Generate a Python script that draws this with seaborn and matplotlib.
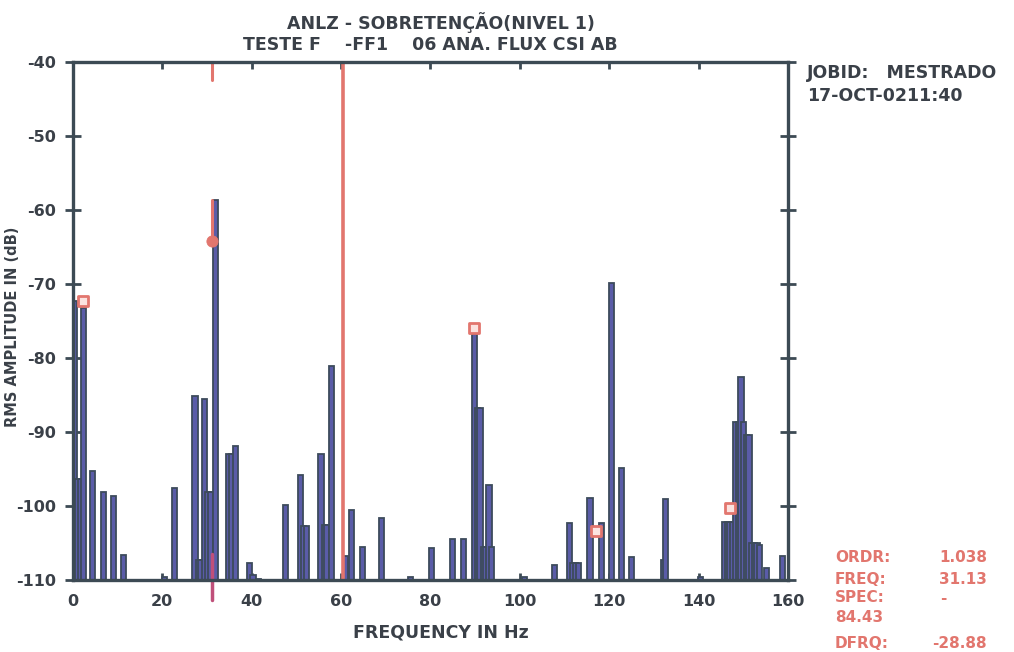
import numpy as np
import pandas as pd
import matplotlib
matplotlib.use("Agg")
import matplotlib.pyplot as plt
import seaborn as sns

# -------------------------
# data (Hz, dB)
# -------------------------
freq_hz = [0.3, 1.0, 1.6, 2.3, 4.4, 6.8, 9.0, 11.3, 20.4, 22.7,
           27.3, 28.0, 28.6, 29.5, 30.2, 30.8, 31.8, 34.8, 35.5, 36.3,
           39.5, 40.3, 41.5, 47.5, 51.0, 51.6, 52.2, 55.5, 56.2, 56.8,
           57.9, 60.9, 62.3, 64.7, 69.1, 75.6, 80.3, 85.0, 87.4, 89.8,
           90.5, 91.1, 91.8, 92.4, 93.1, 93.7, 101.0, 107.8, 111.2, 111.9,
           112.5, 113.2, 115.7, 118.2, 120.6, 122.7, 125.0, 132.1, 132.7, 140.5,
           145.8, 146.4, 147.0, 147.6, 148.3, 148.9, 149.5, 150.1, 150.7, 151.3,
           151.9, 152.5, 153.1, 153.7, 155.2, 158.8]
amp_db = [-72.3, -96.3, -96.3, -73.2, -95.2, -98.1, -98.6, -106.6, -109.5, -97.6,
          -85.1, -107.2, -107.2, -85.5, -98.1, -98.1, -58.7, -92.9, -92.9, -91.8,
          -107.7, -109.3, -109.8, -99.8, -95.8, -102.7, -102.7, -93.0, -102.6, -102.6,
          -81.1, -106.7, -100.5, -105.5, -101.6, -109.6, -105.6, -104.4, -104.4, -76.8,
          -86.8, -86.8, -105.5, -105.5, -97.2, -105.5, -109.6, -107.9, -102.2, -107.6,
          -107.6, -107.6, -98.9, -102.2, -69.9, -94.9, -106.8, -107.3, -99.0, -109.6,
          -102.1, -102.1, -102.1, -102.1, -88.6, -88.6, -82.5, -88.6, -90.4, -90.4,
          -104.9, -104.9, -104.9, -105.2, -108.4, -106.7]

# harmonic cursor markers
cursor_hz = [2.2, 89.8, 117.0, 147.0]
cursor_db = [-72.3, -75.9, -103.3, -100.2]
active_hz = 31.13
active_db = -64.2
line_hz = 60.4

floor_db = -110
y_ticks = [-40, -50, -60, -70, -80, -90, -100, -110]
x_ticks = [0, 20, 40, 60, 80, 100, 120, 140, 160]

df = pd.DataFrame({"freq": freq_hz, "amp": amp_db})
df["height"] = df["amp"] - floor_db

# -------------------------
# style
# -------------------------
sns.set_style("white")
plt.rcParams['font.family'] = ['DejaVu Sans']
plt.rcParams['font.weight'] = 'bold'

frame_c = "#3c4a54"
text_c = "#3a4048"
bar_face = "#5a5ca8"
bar_edge = "#3d4b5c"
red_c = "#e2766e"

fig = plt.figure(figsize=(10.14, 6.52), dpi=100)
ax = fig.add_axes([0.072, 0.110, 0.705, 0.795])

# bar width ~1.15 Hz whatever the spacing of the bins
min_step = np.diff(np.sort(df["freq"].unique())).min()
sns.barplot(data=df, x="freq", y="height", native_scale=True, orient="x",
            errorbar=None, width=1.15 / min_step, bottom=floor_db,
            facecolor=bar_face, edgecolor=bar_edge, linewidth=1.3, ax=ax)

# red cursor line at ~60 Hz
ax.axvline(line_hz, color=red_c, lw=2.6, zorder=3)
# active cursor on the 31 Hz bar
ax.plot([active_hz, active_hz], [-58.7, -64.5], color=red_c, lw=2.2, zorder=4)
ax.plot([active_hz, active_hz], [-40, -42.5], color=red_c, lw=2.2, zorder=4, clip_on=False)
ax.plot([active_hz, active_hz], [-106.5, -112.6], color="#c0507a", lw=2.5, zorder=4, clip_on=False)
sns.scatterplot(x=[active_hz], y=[active_db], marker="o", s=65, color=red_c,
                edgecolor=red_c, zorder=5, ax=ax)
sns.scatterplot(x=cursor_hz, y=cursor_db, marker="s", s=55, facecolor="#fbe3e0",
                edgecolor=red_c, linewidth=2, zorder=5, ax=ax)

ax.set_xlim(0, 160)
ax.set_ylim(floor_db, -40)
ax.set_xticks(x_ticks)
ax.set_yticks(y_ticks)
ax.set_xticklabels([str(v) for v in x_ticks])
ax.set_yticklabels([str(v) for v in y_ticks])
ax.set_xlabel("")
ax.set_ylabel("")

for s in ax.spines.values():
    s.set_visible(True)
    s.set_color(frame_c)
    s.set_linewidth(2.4)
    s.set_zorder(6)

ax.tick_params(axis="y", left=True, right=True, direction="inout", length=11,
               width=2, color=frame_c, labelsize=11.5, labelcolor=text_c, pad=7)
ax.tick_params(axis="x", bottom=True, top=True, direction="in", length=5,
               width=2, color=frame_c, labelsize=11.5, labelcolor=text_c, pad=10)

# -------------------------
# texts
# -------------------------
fig.text(441 / 1014, 1 - 23 / 652, "ANLZ - SOBRETENÇÃO(NIVEL 1)", ha="center",
         va="center", fontsize=12.5, fontweight="bold", color=text_c)
fig.text(430 / 1014, 1 - 45 / 652, "TESTE F    -FF1    06 ANA. FLUX CSI AB", ha="center",
         va="center", fontsize=12.5, fontweight="bold", color=text_c)
fig.text(441 / 1014, 1 - 632 / 652, "FREQUENCY IN Hz", ha="center", va="center",
         fontsize=12.5, fontweight="bold", color=text_c)
fig.text(13 / 1014, 1 - 327 / 652, "RMS AMPLITUDE IN (dB)", ha="center", va="center",
         rotation=90, fontsize=10.5, fontweight="bold", color=text_c)
fig.text(807 / 1014, 1 - 73 / 652, "JOBID:   MESTRADO", ha="left", va="center",
         fontsize=12.5, fontweight="bold", color=text_c)
fig.text(807 / 1014, 1 - 96 / 652, "17-OCT-0211:40", ha="left", va="center",
         fontsize=12.5, fontweight="bold", color=text_c)

info_labels = ["ORDR:", "FREQ:", "SPEC:", "84.43", "DFRQ:"]
info_values = ["1.038", "31.13", "-", "", "-28.88"]
info_y = [558, 579, 598, 618, 643]
for lab, val, yy in zip(info_labels, info_values, info_y):
    fig.text(835 / 1014, 1 - yy / 652, lab, ha="left", va="center",
             fontsize=11, fontweight="bold", color=red_c)
    if val == "-":
        fig.text(940 / 1014, 1 - yy / 652, val, ha="left", va="center",
                 fontsize=11, fontweight="bold", color=red_c)
    elif val:
        fig.text(987 / 1014, 1 - yy / 652, val, ha="right", va="center",
                 fontsize=11, fontweight="bold", color=red_c)

fig.savefig("out.png", dpi=100)
